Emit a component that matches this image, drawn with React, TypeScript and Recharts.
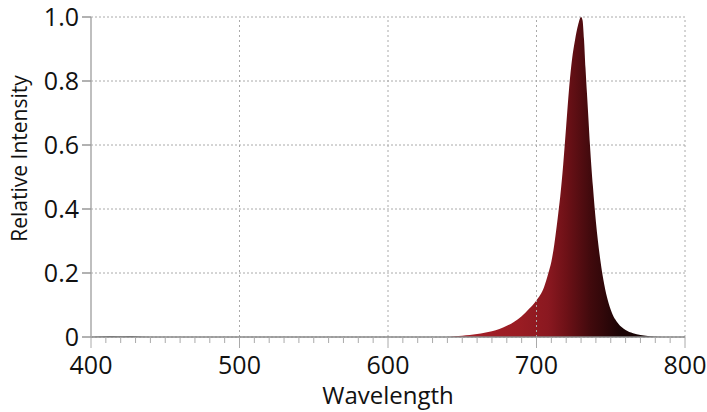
import React from 'react';
import { AreaChart, Area, XAxis, YAxis, CartesianGrid, ReferenceLine } from 'recharts';

const wavelengths = [400, 410, 415, 420, 425, 430, 440, 500, 600, 640, 645, 650, 655, 660, 665, 670, 675, 680, 685, 690, 695, 700, 705, 708, 710, 712, 715, 716, 718, 720, 722, 724, 726, 728, 730, 731, 732, 733, 734, 735, 736, 738, 740, 743, 745, 750, 755, 760, 765, 770, 775, 780, 790, 800];
const intensity = [0, 0.002, 0.003, 0.002, 0.003, 0.002, 0, 0, 0, 0, 0.002, 0.004, 0.006, 0.009, 0.013, 0.018, 0.025, 0.035, 0.048, 0.065, 0.088, 0.115, 0.155, 0.2, 0.235, 0.29, 0.4, 0.44, 0.54, 0.66, 0.78, 0.87, 0.93, 0.975, 1.0, 0.99, 0.93, 0.84, 0.76, 0.68, 0.6, 0.47, 0.36, 0.24, 0.18, 0.085, 0.042, 0.022, 0.012, 0.006, 0.003, 0.001, 0, 0];
const xAllTicks = [400, 410, 420, 430, 440, 450, 460, 470, 480, 490, 500, 510, 520, 530, 540, 550, 560, 570, 580, 590, 600, 610, 620, 630, 640, 650, 660, 670, 680, 690, 700, 710, 720, 730, 740, 750, 760, 770, 780, 790, 800];
const yTicks = [0, 0.2, 0.4, 0.6, 0.8, 1.0];
const xGridLines = [500, 600, 700, 800];

const data = wavelengths.map((w, i) => ({ w, v: intensity[i] }));

const FONT = '"Open Sans", sans-serif';

const XTick = (props: any) => {
  const { x, y, payload } = props;
  const major = payload.value % 100 === 0;
  return (
    <g>
      <line x1={x} y1={y} x2={x} y2={y + (major ? 11 : 6)} stroke="#aaa" strokeWidth={1} />
      {major && (
        <text x={x} y={y + 37} textAnchor="middle" fontFamily={FONT} fontSize={25} fill="#111">
          {payload.value}
        </text>
      )}
    </g>
  );
};

const YTick = (props: any) => {
  const { x, y, payload } = props;
  const v = payload.value;
  return (
    <g>
      <line x1={x - 9} y1={y} x2={x} y2={y} stroke="#999" strokeWidth={1.5} />
      <text x={x - 12} y={y + 9} textAnchor="end" fontFamily={FONT} fontSize={25} fill="#111">
        {v === 0 ? '0' : v.toFixed(1)}
      </text>
    </g>
  );
};

const YLabel = (props: any) => {
  const { viewBox } = props;
  const cx = viewBox.x + 18.5;
  const cy = viewBox.y + viewBox.height / 2 - 18.5;
  return (
    <text x={cx} y={cy} transform={`rotate(-90 ${cx} ${cy})`} textAnchor="middle" dominantBaseline="central" fontFamily={FONT} fontSize={21} fill="#111">
      Relative Intensity
    </text>
  );
};

const XLabel = (props: any) => {
  const { viewBox } = props;
  const cx = viewBox.x + viewBox.width / 2;
  return (
    <text x={cx} y={viewBox.y + 67} textAnchor="middle" fontFamily={FONT} fontSize={24} fill="#111">
      Wavelength
    </text>
  );
};

export default function App() {
  return (
    <div style={{ position: 'absolute', left: 0, top: 0, width: 707, height: 412, background: '#fff' }}>
      <AreaChart width={707} height={412} data={data} margin={{ top: 17, right: 22, bottom: 0, left: 0 }}>
        <defs>
          <linearGradient id="redFill" x1="0" y1="0" x2="1" y2="0">
            <stop offset="0" stopColor="#555" />
            <stop offset="0.12" stopColor="#555" />
            <stop offset="0.6" stopColor="#a8202a" />
            <stop offset="0.72" stopColor="#9a1c23" />
            <stop offset="0.77" stopColor="#8a1820" />
            <stop offset="0.8" stopColor="#6e1117" />
            <stop offset="0.84" stopColor="#420a0d" />
            <stop offset="0.89" stopColor="#1c0405" />
            <stop offset="1" stopColor="#0a0202" />
          </linearGradient>
        </defs>
        <CartesianGrid vertical={false} stroke="#aaa" strokeDasharray="2 2" />
        {xGridLines.map((g) => (
          <ReferenceLine key={g} x={g} stroke="#aaa" strokeDasharray="2 3" />
        ))}
        <XAxis
          dataKey="w"
          type="number"
          domain={[400, 800]}
          ticks={xAllTicks}
          interval={0}
          tick={<XTick />}
          tickLine={false}
          tickSize={0}
          tickMargin={0}
          axisLine={{ stroke: '#888', strokeWidth: 1.5 }}
          height={75}
          label={<XLabel />}
        />
        <YAxis
          type="number"
          domain={[0, 1]}
          ticks={yTicks}
          interval={0}
          tick={<YTick />}
          tickLine={false}
          tickSize={0}
          tickMargin={0}
          axisLine={{ stroke: '#aaa', strokeWidth: 1.5 }}
          width={91}
          label={<YLabel />}
        />
        <Area
          type="monotone"
          dataKey="v"
          stroke="none"
          fill="url(#redFill)"
          fillOpacity={1}
          isAnimationActive={false}
          dot={false}
          activeDot={false}
        />
      </AreaChart>
    </div>
  );
}
